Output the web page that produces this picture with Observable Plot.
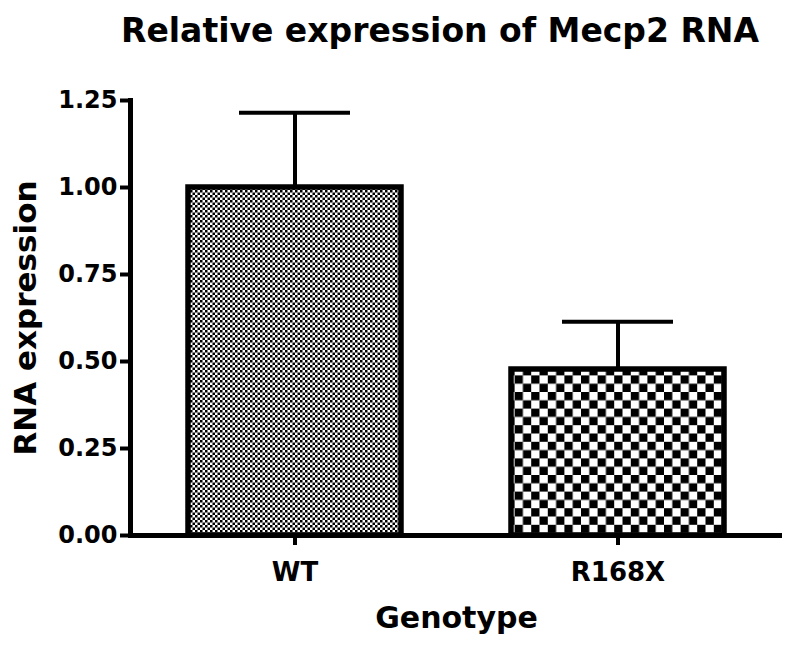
<!DOCTYPE html>
<html>
<head>
<meta charset="utf-8">
<script src="https://cdn.jsdelivr.net/npm/d3@7"></script>
<script src="https://cdn.jsdelivr.net/npm/@observablehq/plot@0.6"></script>
<style>
  html, body { margin: 0; padding: 0; background: #fff; }
  #wrap { width: 800px; height: 646px; position: relative; overflow: hidden; }
  #title { position: relative; height: 60px; width: 800px; }
  #title span {
    position: absolute; left: 440px; top: 14px; transform: translateX(-50%);
    font-family: "DejaVu Sans", sans-serif; font-weight: bold; font-size: 33px;
    line-height: 33px; white-space: nowrap; color: #000;
  }
  svg text { fill: #000; }
</style>
</head>
<body>
<div id="wrap">
  <div id="title"><span>Relative expression of Mecp2 RNA</span></div>
  <div id="chart"></div>
</div>
<script>
const genotypes = ["WT", "R168X"];
const means = [1.0, 0.477];
const errors = [0.215, 0.137];
const yTicks = [0, 0.25, 0.5, 0.75, 1.0, 1.25];
const patterns = ["url(#fineCheck)", "url(#coarseCheck)"];

const data = genotypes.map((g, i) => ({g, v: means[i], e: errors[i], fill: patterns[i]}));

const plot = Plot.plot({
  width: 800,
  height: 586,
  marginTop: 40,
  marginBottom: 111,
  marginLeft: 130,
  marginRight: 18,
  style: {fontFamily: "DejaVu Sans, sans-serif", fontWeight: "bold", background: "white"},
  x: {domain: genotypes, paddingInner: 0.342, paddingOuter: 0.18},
  y: {domain: [0, 1.25]},
  marks: [
    Plot.barY(data, {x: "g", y: "v", fill: "fill", stroke: "black", strokeWidth: 5.5}),
    Plot.ruleX(data, {x: "g", y1: "v", y2: d => d.v + d.e, stroke: "black", strokeWidth: 4}),
    Plot.tickY(data, {x: "g", y: d => d.v + d.e, stroke: "black", strokeWidth: 4, insetLeft: 51, insetRight: 51}),
    Plot.ruleY([0], {stroke: "black", strokeWidth: 5}),
    Plot.frame({anchor: "left", stroke: "black", strokeWidth: 5}),
    Plot.axisY({ticks: yTicks, tickFormat: d3.format(".2f"), tickSize: 10, tickPadding: 3, strokeWidth: 4, fontSize: 24, label: null}),
    Plot.axisX({tickSize: 10, tickPadding: 17, strokeWidth: 4, fontSize: 26, label: null}),
    Plot.text(["RNA expression"], {frameAnchor: "left", rotate: -90, dx: -104, textAnchor: "middle", lineAnchor: "middle", fontSize: 31, fontWeight: "bold"}),
    Plot.text(["Genotype"], {frameAnchor: "bottom", dy: 92, textAnchor: "middle", lineAnchor: "bottom", fontSize: 30, fontWeight: "bold"})
  ]
});

// pattern definitions for the bar fills
const ns = "http://www.w3.org/2000/svg";
const defs = document.createElementNS(ns, "defs");
function checker(id, cell) {
  const p = document.createElementNS(ns, "pattern");
  p.setAttribute("id", id);
  p.setAttribute("patternUnits", "userSpaceOnUse");
  p.setAttribute("width", 2 * cell);
  p.setAttribute("height", 2 * cell);
  const bg = document.createElementNS(ns, "rect");
  bg.setAttribute("width", 2 * cell); bg.setAttribute("height", 2 * cell); bg.setAttribute("fill", "white");
  p.appendChild(bg);
  [[0, 0], [cell, cell]].forEach(([x, y]) => {
    const r = document.createElementNS(ns, "rect");
    r.setAttribute("x", x); r.setAttribute("y", y);
    r.setAttribute("width", cell); r.setAttribute("height", cell);
    r.setAttribute("fill", "black");
    p.appendChild(r);
  });
  defs.appendChild(p);
}
checker("fineCheck", 2.5);
checker("coarseCheck", 8.3);
plot.insertBefore(defs, plot.firstChild);

document.getElementById("chart").appendChild(plot);
</script>
</body>
</html>
